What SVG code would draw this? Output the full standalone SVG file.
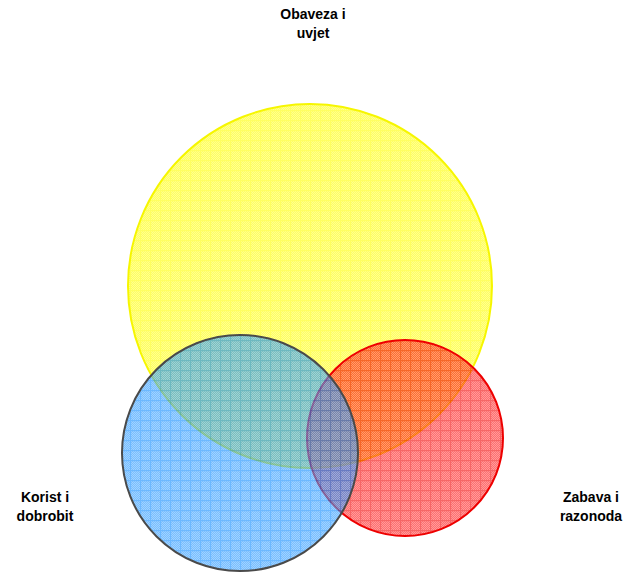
<svg xmlns="http://www.w3.org/2000/svg" width="626" height="572" viewBox="0 0 626 572">
<style>
.lbl{font-family:"Liberation Sans",Arial,sans-serif;font-weight:bold;font-size:14px;fill:#000;text-anchor:middle}
</style>
<defs>
<pattern id="chk" width="2" height="2" patternUnits="userSpaceOnUse">
<rect x="0" y="0" width="1" height="1" fill="#fff" fill-opacity="0.3"/>
<rect x="1" y="1" width="1" height="1" fill="#fff" fill-opacity="0.3"/>
</pattern>
<pattern id="py" width="10" height="10" patternUnits="userSpaceOnUse">
<rect width="10" height="10" fill="#ffff00"/>
<rect width="10" height="10" fill="url(#chk)"/>
<path d="M0 0.5H10M0.5 0V10" stroke="#ffff00" stroke-width="1.3"/>
</pattern>
<pattern id="pb" width="10" height="10" patternUnits="userSpaceOnUse">
<rect width="10" height="10" fill="#1f94ff"/>
<rect width="10" height="10" fill="url(#chk)"/>
<path d="M0 0.5H10M0.5 0V10" stroke="#0a88ff" stroke-width="1.3"/>
</pattern>
<pattern id="pr" width="10" height="10" patternUnits="userSpaceOnUse">
<rect width="10" height="10" fill="#ff1010"/>
<rect width="10" height="10" fill="url(#chk)"/>
<path d="M0 0.5H10M0.5 0V10" stroke="#f00000" stroke-width="1.3"/>
</pattern>
</defs>
<g id="nodes">
<g id="obaveza">
<circle cx="310" cy="286" r="182" fill="url(#py)" fill-opacity="0.62" stroke="#f6f600" stroke-width="2"/>
<text class="lbl" x="313" y="19">Obaveza i</text>
<text class="lbl" x="313" y="38">uvjet</text>
</g>
<g id="zabava">
<circle cx="405" cy="438" r="98" fill="url(#pr)" fill-opacity="0.6" stroke="#ee0000" stroke-width="2"/>
<text class="lbl" x="591" y="502">Zabava i</text>
<text class="lbl" x="591" y="521">razonoda</text>
</g>
<g id="korist">
<circle cx="240" cy="453" r="118" fill="url(#pb)" fill-opacity="0.6" stroke="#4a4a4a" stroke-width="2"/>
<text class="lbl" x="45" y="502">Korist i</text>
<text class="lbl" x="45" y="521">dobrobit</text>
</g>
</g>
<g id="connectors"/>
</svg>
